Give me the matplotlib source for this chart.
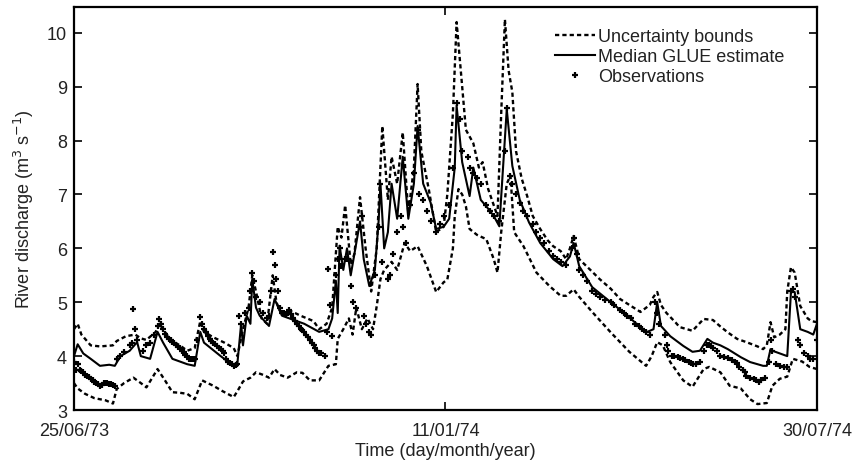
import matplotlib
matplotlib.use("Agg")
import matplotlib.pyplot as plt
from matplotlib.lines import Line2D

plt.rcParams['font.family'] = ['Liberation Sans', 'DejaVu Sans']
plt.rcParams['font.size'] = 13

# days since 25/06/73
tick_days = [0, 200, 400]
tick_labels = ['25/06/73', '11/01/74', '30/07/74']

upper_days = [0, 2, 4, 9, 14, 21, 23, 28, 33, 36, 39, 44, 46, 49, 52, 57, 61, 65, 68, 70,
              75, 81, 86, 88, 91, 94, 96, 98, 101, 104, 107, 109, 112, 116, 122, 129, 132,
              136, 139, 142, 144, 146, 149, 151, 154, 157, 160, 163, 166, 169, 171, 174, 177,
              180, 183, 185, 187, 191, 195, 199, 201, 204, 206, 209, 211, 215, 218, 220, 223,
              227, 228, 230, 232, 234, 236, 238, 241, 244, 247, 251, 255, 258, 262, 265, 267,
              269, 271, 272, 278, 283, 289, 294, 299, 305, 310, 312, 314, 316, 319, 324, 326,
              333, 339, 344, 348, 352, 357, 362, 368, 371, 373, 375, 377, 380, 383, 384, 386,
              388, 391, 395, 397, 400]
upper_vals = [4.5, 4.6, 4.4, 4.2, 4.18, 4.2, 4.28, 4.37, 4.4, 4.33, 4.3, 4.45, 4.6, 4.45, 4.3,
              4.2, 4.1, 4.15, 4.65, 4.45, 4.35, 4.25, 4.15, 4.0, 4.5, 4.9, 5.5, 5.2, 4.7, 4.6,
              5.5, 5.0, 4.75, 4.85, 4.75, 4.65, 4.5, 4.6, 4.9, 6.4, 6.2, 6.8, 5.7, 5.9, 6.95,
              6.0, 5.2, 6.0, 8.27, 6.9, 7.7, 7.2, 8.15, 6.65, 7.5, 9.05, 7.8, 7.1, 6.3, 6.4,
              7.0, 8.5, 10.2, 9.0, 8.2, 7.95, 7.5, 7.6, 7.1, 6.7, 6.6, 8.5, 10.25, 9.3, 8.9,
              7.8, 7.3, 6.97, 6.6, 6.36, 6.15, 6.04, 5.95, 5.8, 6.0, 6.23, 5.95, 5.8, 5.6, 5.43,
              5.25, 5.06, 4.95, 4.82, 4.95, 5.1, 5.19, 4.95, 4.8, 4.62, 4.54, 4.47, 4.69, 4.67,
              4.55, 4.44, 4.32, 4.26, 4.18, 4.13, 4.2, 4.63, 4.35, 4.4, 4.5, 5.2, 5.65, 5.55,
              4.93, 4.7, 4.65, 4.63]

lower_days = [0, 2, 6, 11, 17, 21, 23, 27, 32, 36, 39, 45, 49, 53, 57, 61, 65, 69, 72, 75,
              80, 86, 88, 91, 95, 98, 102, 105, 108, 111, 115, 120, 123, 127, 132, 137, 141,
              142, 145, 148, 150, 152, 155, 158, 161, 163, 165, 167, 171, 174, 178, 181, 185,
              190, 195, 199, 201, 204, 205, 207, 209, 211, 213, 217, 222, 226, 228, 230, 233,
              235, 237, 242, 244, 249, 256, 262, 265, 269, 272, 279, 289, 299, 308, 311, 314,
              317, 321, 328, 333, 339, 342, 348, 353, 359, 364, 368, 373, 376, 380, 384, 387,
              392, 396, 400]
lower_vals = [3.5, 3.4, 3.3, 3.22, 3.18, 3.12, 3.39, 3.5, 3.6, 3.5, 3.42, 3.76, 3.55, 3.33,
              3.32, 3.3, 3.2, 3.55, 3.5, 3.45, 3.35, 3.24, 3.35, 3.53, 3.6, 3.7, 3.65, 3.6,
              3.76, 3.65, 3.6, 3.7, 3.69, 3.55, 3.55, 3.82, 3.85, 4.32, 4.5, 4.7, 4.4, 4.9,
              4.5, 4.7, 4.5, 4.93, 5.43, 5.6, 5.75, 5.6, 6.1, 5.95, 6.04, 5.67, 5.19, 5.37,
              5.42, 6.0, 6.6, 7.1, 7.0, 6.78, 6.36, 6.25, 6.17, 5.8, 5.55, 6.3, 7.2, 7.35, 6.3,
              6.04, 5.9, 5.55, 5.3, 5.12, 5.12, 5.24, 5.1, 4.82, 4.44, 4.08, 3.82, 4.0, 4.26,
              4.2, 3.89, 3.55, 3.43, 3.76, 3.8, 3.7, 3.45, 3.4, 3.2, 3.11, 3.13, 3.45, 3.58,
              3.62, 3.95, 3.9, 3.8, 3.76]

median_days = [0, 2, 5, 9, 14, 19, 22, 25, 30, 34, 36, 41, 45, 48, 53, 61, 65, 68, 70, 79,
               86, 88, 90, 91, 93, 95, 96, 98, 100, 105, 108, 112, 116, 124, 132, 137, 139,
               141, 142, 143, 145, 147, 149, 151, 154, 156, 159, 162, 164, 165, 167, 169, 171,
               174, 177, 180, 183, 185, 188, 192, 195, 199, 202, 205, 206, 209, 213, 215, 219,
               222, 226, 229, 231, 233, 236, 240, 245, 251, 258, 263, 267, 269, 272, 279, 289,
               298, 308, 312, 314, 316, 321, 328, 333, 337, 341, 344, 348, 352, 359, 364, 371,
               373, 375, 376, 380, 384, 386, 388, 391, 395, 398, 400]
median_vals = [4.0, 4.22, 4.05, 3.95, 3.82, 3.84, 3.82, 4.0, 4.1, 4.26, 4.0, 3.95, 4.45, 4.25,
               3.95, 3.85, 3.82, 4.45, 4.25, 4.0, 3.82, 3.87, 4.6, 4.2, 4.75, 4.6, 5.43, 4.9,
               4.75, 4.56, 5.06, 4.75, 4.7, 4.6, 4.45, 4.5, 4.7, 5.4, 4.8, 6.05, 5.6, 6.0, 5.5,
               5.9, 6.5, 5.8, 5.3, 5.6, 6.5, 7.2, 6.0, 6.3, 7.2, 6.55, 7.7, 6.55, 7.2, 8.27,
               7.2, 6.85, 6.36, 6.4, 6.55, 7.5, 8.65, 7.6, 6.97, 7.5, 6.9, 6.78, 6.6, 6.41, 7.5,
               8.58, 7.53, 6.9, 6.48, 6.1, 5.8, 5.67, 5.85, 6.1, 5.67, 5.28, 5.0, 4.75, 4.44,
               4.5, 5.0, 4.56, 4.37, 4.19, 4.08, 4.1, 4.32, 4.25, 4.2, 4.13, 3.98, 3.89, 3.82,
               3.82, 4.13, 4.1, 4.05, 4.0, 5.19, 5.19, 4.5, 4.45, 4.4, 4.6]

obs_days = [0, 1, 2, 3, 4, 5, 6, 7, 8, 9,
            10, 11, 12, 13, 14, 15, 16, 17, 18, 19,
            20, 21, 22, 23, 25, 27, 30, 31, 32, 33,
            34, 37, 39, 41, 43, 45, 46, 47, 48, 49,
            50, 51, 52, 53, 54, 55, 56, 57, 58, 59,
            60, 61, 62, 63, 64, 65, 66, 68, 69, 70,
            71, 72, 73, 74, 75, 76, 77, 78, 79, 80,
            81, 82, 83, 84, 85, 86, 87, 88, 89, 90,
            92, 94, 95, 96, 97, 98, 100, 102, 104, 105,
            106, 107, 108, 109, 110, 111, 112, 113, 114, 115,
            116, 117, 118, 119, 120, 121, 122, 123, 124, 125,
            126, 127, 128, 129, 130, 131, 132, 133, 135, 136,
            137, 138, 139, 141, 142, 143, 144, 146, 147, 149,
            150, 152, 154, 155, 156, 157, 159, 160, 162, 164,
            165, 166, 169, 170, 172, 174, 176, 177, 179, 181,
            183, 185, 186, 188, 190, 192, 195, 197, 199, 202,
            204, 206, 208, 209, 212, 213, 215, 217, 219, 222,
            224, 226, 229, 232, 233, 235, 236, 238, 240, 242,
            244, 247, 249, 251, 253, 256, 258, 260, 262, 265,
            268, 269, 271, 272, 274, 276, 279, 281, 283, 286,
            289, 291, 294, 296, 298, 300, 302, 304, 306, 308,
            310, 313, 314, 315, 318, 319, 320, 322, 323, 325,
            326, 328, 329, 331, 332, 333, 335, 337, 339, 341,
            342, 343, 344, 346, 348, 350, 352, 354, 356, 357,
            358, 360, 361, 362, 364, 366, 367, 369, 370, 372,
            374, 375, 376, 378, 380, 382, 384, 386, 387, 388,
            390, 391, 393, 395, 396, 398, 400]
obs_vals = [3.9, 3.75, 3.85, 3.75, 3.72, 3.7, 3.65, 3.63, 3.62, 3.58,
            3.55, 3.52, 3.5, 3.48, 3.45, 3.47, 3.5, 3.5, 3.5, 3.48,
            3.48, 3.46, 3.45, 3.95, 4.0, 4.07, 4.2, 4.25, 4.87, 4.5,
            4.3, 4.1, 4.2, 4.25, 4.4, 4.55, 4.69, 4.6, 4.5, 4.42,
            4.35, 4.32, 4.3, 4.27, 4.25, 4.2, 4.17, 4.15, 4.1, 4.07,
            4.03, 4.0, 3.95, 3.95, 3.95, 3.95, 4.3, 4.72, 4.6, 4.5,
            4.45, 4.38, 4.32, 4.28, 4.25, 4.22, 4.18, 4.15, 4.13, 4.1,
            4.05, 3.95, 3.9, 3.88, 3.85, 3.82, 3.83, 3.85, 4.75, 4.6,
            4.8, 4.9, 5.2, 5.55, 5.4, 5.1, 5.0, 4.8, 4.7, 4.75,
            5.2, 5.93, 5.7, 5.43, 5.2, 4.9, 4.8, 4.8, 4.78, 4.8,
            4.85, 4.78, 4.7, 4.65, 4.6, 4.55, 4.5, 4.48, 4.45, 4.4,
            4.35, 4.3, 4.25, 4.2, 4.15, 4.1, 4.05, 4.05, 4.0, 4.45,
            5.62, 4.95, 4.37, 5.5, 5.8, 6.0, 5.67, 5.8, 5.8, 5.3,
            5.0, 4.9, 6.4, 6.6, 4.75, 4.6, 4.44, 4.4, 5.5, 6.4,
            7.2, 5.75, 5.43, 5.5, 5.9, 6.3, 6.6, 6.4, 6.1, 6.8,
            7.4, 8.2, 7.0, 6.9, 6.7, 6.5, 6.3, 6.45, 6.6, 6.8,
            7.5, 8.7, 8.4, 7.8, 7.7, 7.5, 7.4, 7.3, 7.2, 6.8,
            6.7, 6.6, 6.5, 7.8, 8.6, 7.35, 7.2, 7.0, 6.85, 6.7,
            6.6, 6.45, 6.3, 6.2, 6.1, 5.95, 5.85, 5.8, 5.75, 5.7,
            6.0, 6.2, 5.9, 5.6, 5.5, 5.4, 5.2, 5.15, 5.1, 5.05,
            5.0, 4.95, 4.85, 4.8, 4.75, 4.7, 4.6, 4.55, 4.5, 4.45,
            4.4, 5.0, 4.8, 4.6, 4.4, 4.2, 4.1, 4.0, 4.0, 3.98,
            3.97, 3.95, 3.92, 3.9, 3.88, 3.85, 3.86, 3.9, 4.1, 4.2,
            4.2, 4.18, 4.15, 4.1, 4.0, 3.98, 3.97, 3.92, 3.9, 3.87,
            3.8, 3.75, 3.7, 3.64, 3.6, 3.58, 3.55, 3.52, 3.55, 3.6,
            3.9, 4.3, 4.1, 3.85, 3.82, 3.8, 3.8, 5.2, 5.25, 5.1,
            4.3, 4.2, 4.05, 4.0, 3.95, 3.95, 4.3]

fig = plt.figure(figsize=(8.56, 4.64), dpi=100)
ax = fig.add_axes([0.0864, 0.1142, 0.868, 0.8686])

dash = (0, (1.8, 1.3))
ax.plot(upper_days, upper_vals, color='black', lw=1.7, linestyle=dash)
ax.plot(lower_days, lower_vals, color='black', lw=1.7, linestyle=dash)
ax.plot(median_days, median_vals, color='black', lw=1.5)
ax.plot(obs_days, obs_vals, '+', color='black', markersize=5, mew=1.6)

ax.set_xlim(0, 400)
ax.set_ylim(3, 10.48)
ax.set_xticks(tick_days)
ax.set_xticklabels(tick_labels)
ax.set_yticks(range(3, 11))
ax.tick_params(direction='in', length=6, width=1.2, top=True, right=True,
               labelright=False, labeltop=False, colors='black', labelcolor='#222222')
ax.tick_params(axis='x', pad=8.5)
ax.tick_params(axis='y', pad=5)
for s in ax.spines.values():
    s.set_linewidth(1.6)

ax.set_xlabel('Time (day/month/year)', color='#222222', labelpad=2)
ax.set_ylabel('River discharge (m$^3$ s$^{-1}$)', color='#222222', labelpad=8)

handles = [Line2D([], [], color='black', lw=1.7, linestyle=dash),
           Line2D([], [], color='black', lw=1.5),
           Line2D([], [], color='black', marker='+', linestyle='none', markersize=5, mew=1.6)]
labels = ['Uncertainty bounds', 'Median GLUE estimate', 'Observations']
fig.legend(handles, labels, loc='upper left', bbox_to_anchor=(0.638, 0.956), frameon=False,
           handlelength=2.2, handletextpad=0.2, labelspacing=0.15, borderpad=0,
           fontsize=13, labelcolor='#222222')

fig.savefig('out.png', dpi=100)
